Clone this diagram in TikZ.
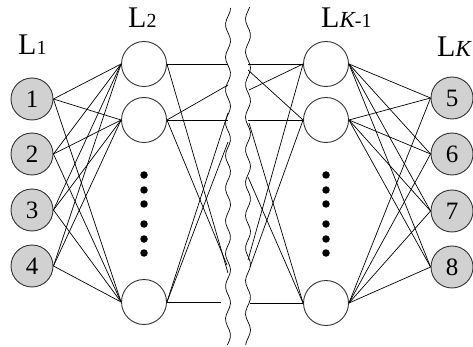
\documentclass[tikz,border=0pt]{standalone}
\usepackage{fontspec}
\setmainfont{Liberation Serif}
\begin{document}
\begin{tikzpicture}[x=1pt,y=-1pt,
  inp/.style={circle, draw=black!80, fill=black!18, line width=0.9pt, minimum size=42pt, inner sep=0pt, font=\fontsize{25}{25}\selectfont},
  hid/.style={circle, draw=black!80, fill=white, line width=0.9pt, minimum size=45pt, inner sep=0pt},
  conn/.style={line width=0.7pt},
  wavy/.style={line width=0.7pt},
  lbl/.style={anchor=base west, inner sep=0pt, font=\fontsize{30}{30}\selectfont},
  bigdot/.style={circle, fill=black, inner sep=0pt, minimum size=7.5pt}]
\useasboundingbox (0,0) rectangle (473,347);

% labels
\node[lbl] (l1) at (18,55) {L{\fontsize{20}{20}\selectfont 1}};
\node[lbl] (l2) at (128,28) {L{\fontsize{20}{20}\selectfont 2}};
\node[lbl] (lk1) at (321,28) {L{\fontsize{23}{23}\selectfont\itshape K}{\fontsize{20}{20}\selectfont -1}};
\node[lbl] (lk) at (437,57) {L{\fontsize{23}{23}\selectfont\itshape K}};

% wavy cut lines
\draw[wavy] plot[smooth, domain=8:345, samples=90] ({228+2.5*sin(\x*11)}, \x);
\draw[wavy] plot[smooth, domain=7:345, samples=90] ({248+2.5*sin(\x*11+60)}, \x);

% input layer
\node[inp] (i1) at (32,99) {1};
\node[inp] (i2) at (32,154) {2};
\node[inp] (i3) at (32,210) {3};
\node[inp] (i4) at (32,266) {4};

% layer 2
\node[hid] (ha) at (144,64) {};
\node[hid] (hb) at (144,120) {};
\node[hid] (hc) at (144,302) {};

% layer K-1
\node[hid] (ga) at (326,64) {};
\node[hid] (gb) at (326,120) {};
\node[hid] (gc) at (326,303) {};

% output layer
\node[inp] (o5) at (452,98) {5};
\node[inp] (o6) at (452,154) {6};
\node[inp] (o7) at (452,211) {7};
\node[inp] (o8) at (452,267) {8};

% dots
\foreach \y [count=\k] in {175,190,204,224,239,253} {
  \node[bigdot] (dl\k) at (144,\y) {};
  \node[bigdot] (dr\k) at (326,\y) {};
}

% input -> layer 2
\foreach \i in {i1,i2,i3,i4} {
  \foreach \h in {ha,hb,hc} {
    \draw[conn] (\i.east) -- (\h.west);
  }
}

% layer K-1 -> output
\foreach \g in {ga,gb,gc} {
  \foreach \o in {o5,o6,o7,o8} {
    \draw[conn] (\g.east) -- (\o.west);
  }
}

% cut ends on the left wavy line
\coordinate (la1) at (228,64);
\coordinate (la2) at (228,273);
\coordinate (lb1) at (228,85);
\coordinate (lb2) at (228,120);
\coordinate (lb3) at (227,265);
\coordinate (lc1) at (228,113);
\coordinate (lc2) at (228,142);
\coordinate (lc3) at (221,302);
\draw[conn] (ha.east) -- (la1);
\draw[conn] (ha.east) -- (la2);
\draw[conn] (hb.east) -- (lb1);
\draw[conn] (hb.east) -- (lb2);
\draw[conn] (hb.east) -- (lb3);
\draw[conn] (hc.east) -- (lc1);
\draw[conn] (hc.east) -- (lc2);
\draw[conn] (hc.east) -- (lc3);

% cut ends on the right wavy line
\coordinate (ra1) at (248,64);
\coordinate (ra2) at (249,90);
\coordinate (ra3) at (248,260);
\coordinate (rb1) at (248,70);
\coordinate (rb2) at (248,120);
\coordinate (rb3) at (250,267);
\coordinate (rc1) at (249,123);
\coordinate (rc2) at (248,177);
\coordinate (rc3) at (250,303);
\draw[conn] (ra1) -- (ga.west);
\draw[conn] (ra2) -- (ga.west);
\draw[conn] (ra3) -- (ga.west);
\draw[conn] (rb1) -- (gb.west);
\draw[conn] (rb2) -- (gb.west);
\draw[conn] (rb3) -- (gb.west);
\draw[conn] (rc1) -- (gc.west);
\draw[conn] (rc2) -- (gc.west);
\draw[conn] (rc3) -- (gc.west);
\end{tikzpicture}
\end{document}
